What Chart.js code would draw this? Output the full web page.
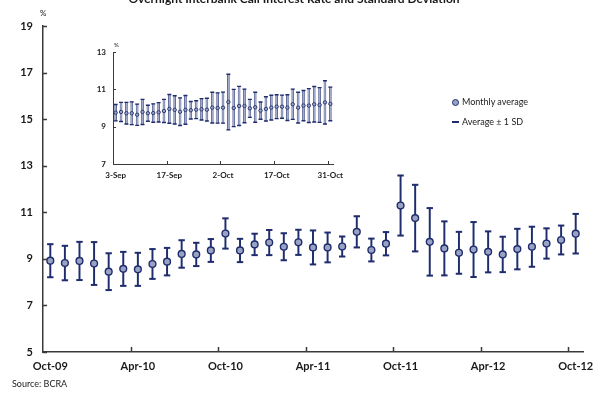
<!DOCTYPE html>
<html>
<head>
<meta charset="utf-8">
<script src="https://cdn.jsdelivr.net/npm/chart.js@4.4.1/dist/chart.umd.min.js"></script>
<style>
  html, body { margin: 0; padding: 0; background: #fff; }
  #wrap { position: relative; width: 595px; height: 393px; overflow: hidden; font-family: Lato, "DejaVu Sans", sans-serif; color: #1a1a1a; }
  canvas { position: absolute; }
  #main { left: 0; top: 0; }
  #inset { left: 60px; top: 40px; }
  .t { position: absolute; white-space: nowrap; }
  .lg { font-size: 9px; line-height: 10px; }
</style>
</head>
<body>
<div id="wrap">
  <canvas id="main" width="595" height="393"></canvas>
  <canvas id="inset" width="290" height="150"></canvas>
  <div class="t" style="left:0;width:588px;text-align:center;top:-7px;font-weight:bold;font-size:12px;line-height:12px;">Overnight Interbank Call Interest Rate and Standard Deviation</div>
  <div class="t" style="left:40px;top:9px;font-size:8px;line-height:9px;">%</div>
  <div class="t" style="left:114px;top:41px;font-size:6px;line-height:7px;">%</div>
  <div class="t" style="left:452px;top:99px;width:7px;height:7px;box-sizing:border-box;border:1.5px solid #1f2d6e;background:#9aa2c4;border-radius:50%;"></div>
  <div class="t lg" style="left:462px;top:97px;">Monthly average</div>
  <div class="t" style="left:452px;top:121px;width:7px;height:2px;background:#1f2d6e;"></div>
  <div class="t lg" style="left:462px;top:117px;">Average ± 1 SD</div>
  <div class="t" style="left:12px;top:379px;font-size:9px;line-height:10px;">Source: BCRA</div>
</div>
<script>
// Monthly overnight call rate, Oct-09 .. Oct-12 (%)
const monthLabels = ['Oct-09','Nov-09','Dec-09','Jan-10','Feb-10','Mar-10','Apr-10','May-10','Jun-10','Jul-10','Aug-10','Sep-10',
  'Oct-10','Nov-10','Dec-10','Jan-11','Feb-11','Mar-11','Apr-11','May-11','Jun-11','Jul-11','Aug-11','Sep-11',
  'Oct-11','Nov-11','Dec-11','Jan-12','Feb-12','Mar-12','Apr-12','May-12','Jun-12','Jul-12','Aug-12','Sep-12','Oct-12'];
const monthlyAvg = [8.92, 8.82, 8.91, 8.80, 8.45, 8.57, 8.55, 8.78, 8.88, 9.21, 9.19, 9.36,
  10.09, 9.36, 9.62, 9.70, 9.52, 9.71, 9.49, 9.49, 9.53, 10.16, 9.38, 9.65,
  11.29, 10.75, 9.73, 9.45, 9.26, 9.40, 9.30, 9.19, 9.42, 9.52, 9.66, 9.81, 10.08];
const monthlySd = [0.71, 0.74, 0.82, 0.92, 0.79, 0.73, 0.71, 0.64, 0.59, 0.59, 0.50, 0.49,
  0.65, 0.50, 0.46, 0.54, 0.58, 0.54, 0.73, 0.64, 0.43, 0.67, 0.49, 0.50,
  1.29, 1.43, 1.45, 1.16, 0.90, 1.18, 0.88, 0.76, 0.87, 0.86, 0.65, 0.62, 0.85];

// Daily overnight call rate, Sep-12 .. Oct-12 business days (%)
const dayLabels = ['3-Sep','4-Sep','5-Sep','6-Sep','7-Sep','10-Sep','11-Sep','12-Sep','13-Sep','14-Sep',
  '17-Sep','18-Sep','19-Sep','20-Sep','21-Sep','25-Sep','26-Sep','27-Sep','28-Sep','1-Oct',
  '2-Oct','3-Oct','4-Oct','5-Oct','9-Oct','10-Oct','11-Oct','12-Oct','15-Oct','16-Oct',
  '17-Oct','18-Oct','19-Oct','22-Oct','23-Oct','24-Oct','25-Oct','26-Oct','29-Oct','30-Oct','31-Oct'];
const dailyAvg = [9.75, 9.79, 9.72, 9.72, 9.64, 9.79, 9.72, 9.73, 9.77, 9.84,
  9.95, 9.90, 9.80, 9.90, 9.88, 9.91, 9.93, 9.91, 10.02, 10.00,
  10.02, 10.32, 10.00, 10.11, 10.11, 9.98, 10.04, 9.86, 9.95, 10.02,
  10.07, 10.07, 10.02, 10.20, 10.02, 10.13, 10.13, 10.20, 10.16, 10.30, 10.22];
const dailySd = [0.44, 0.51, 0.58, 0.61, 0.57, 0.67, 0.43, 0.49, 0.52, 0.62,
  0.77, 0.76, 0.74, 0.77, 0.47, 0.48, 0.57, 0.61, 0.82, 0.81,
  0.83, 1.49, 1.00, 1.05, 0.90, 0.48, 0.80, 0.46, 0.65, 0.66,
  0.64, 0.62, 0.69, 0.81, 0.82, 0.81, 0.91, 0.95, 0.93, 1.16, 0.90];

const mainTicks = [5, 7, 9, 11, 13, 15, 17, 19];
const insetTicks = [7, 9, 11, 13];

const NAVY = '#1f2d6e';
const LIGHT = '#9aa2c4';
const AXIS = '#3a3a3a';

// Short tick marks pointing into the plot area
const inwardTicks = {
  id: 'inwardTicks',
  afterDraw(chart, args, o) {
    const { ctx, chartArea: a, scales: { x, y } } = chart;
    ctx.save();
    ctx.strokeStyle = o.color;
    ctx.lineWidth = o.width;
    ctx.beginPath();
    y.ticks.forEach(t => {
      const py = Math.round(y.getPixelForValue(t.value)) + 0.5;
      ctx.moveTo(a.left, py);
      ctx.lineTo(a.left + o.yLen, py);
    });
    const n = chart.data.labels.length;
    for (let i = o.every; i < n; i += o.every) {
      const px = Math.round((x.getPixelForValue(i - 1) + x.getPixelForValue(i)) / 2) + 0.5;
      ctx.moveTo(px, a.bottom);
      ctx.lineTo(px, a.bottom - o.xLen);
    }
    ctx.stroke();
    ctx.restore();
  }
};

function errorChart(id, labels, avg, sd, tickVals, s) {
  const hi = avg.map((v, i) => v + sd[i]);
  const lo = avg.map((v, i) => v - sd[i]);
  return new Chart(document.getElementById(id), {
    type: 'bar',
    data: {
      labels,
      datasets: [
        { type: 'line', label: 'avg', data: avg, showLine: false, order: 0,
          pointStyle: 'circle', pointRadius: s.dot, pointBorderWidth: s.dotBorder,
          pointBackgroundColor: LIGHT, pointBorderColor: NAVY },
        { type: 'line', label: 'hi', data: hi, showLine: false, order: 1,
          pointStyle: 'line', pointRadius: s.cap, pointBorderWidth: s.capWidth, pointBorderColor: NAVY },
        { type: 'line', label: 'lo', data: lo, showLine: false, order: 1,
          pointStyle: 'line', pointRadius: s.cap, pointBorderWidth: s.capWidth, pointBorderColor: NAVY },
        { type: 'bar', label: 'sd', data: lo.map((v, i) => [v, hi[i]]), order: 2,
          barThickness: s.bar, backgroundColor: s.barFill, borderColor: NAVY,
          borderWidth: s.barBorder, borderSkipped: false }
      ]
    },
    options: {
      responsive: false,
      devicePixelRatio: 1,
      animation: false,
      events: [],
      layout: { padding: { top: s.top, right: s.right, left: 0, bottom: 0 } },
      plugins: {
        legend: { display: false },
        tooltip: { enabled: false },
        inwardTicks: { color: AXIS, width: s.axisWidth, yLen: s.yLen, xLen: s.xLen, every: s.every }
      },
      scales: {
        x: {
          type: 'category',
          offset: true,
          grid: { display: false, drawTicks: false },
          border: { display: true, color: AXIS, width: s.axisWidth },
          ticks: {
            autoSkip: false, maxRotation: 0, padding: s.xPad,
            color: '#1a1a1a', font: { family: 'Lato', weight: 'bold', size: s.font },
            callback: (v, i) => (i % s.every === 0 ? labels[i] : '')
          },
          afterFit: sc => { sc.height = s.xHeight; sc.paddingLeft = 0; sc.paddingRight = 0; }
        },
        y: {
          min: tickVals[0], max: tickVals[tickVals.length - 1],
          afterBuildTicks: sc => { sc.ticks = tickVals.map(v => ({ value: v })); },
          grid: { display: false, drawTicks: false },
          border: { display: true, color: AXIS, width: s.axisWidth },
          ticks: { padding: s.yPad, color: '#1a1a1a', font: { family: 'Lato', weight: 'bold', size: s.font } },
          afterFit: sc => { sc.width = s.yWidth; sc.paddingTop = 0; sc.paddingBottom = 0; }
        }
      }
    },
    plugins: [inwardTicks]
  });
}

errorChart('main', monthLabels, monthlyAvg, monthlySd, mainTicks, {
  dot: 3.4, dotBorder: 1.4, cap: 3.2, capWidth: 2, bar: 1.3, barFill: NAVY, barBorder: 0,
  top: 26, right: 12, xHeight: 41, yWidth: 43, xPad: 8, yPad: 10, font: 11,
  axisWidth: 1.5, yLen: 4, xLen: 5, every: 6
});

errorChart('inset', dayLabels, dailyAvg, dailySd, insetTicks, {
  dot: 1.7, dotBorder: 0.9, cap: 2, capWidth: 1.4, bar: 2, barFill: '#a3abc9', barBorder: 0.5,
  top: 12, right: 17, xHeight: 26, yWidth: 53, xPad: 7, yPad: 7, font: 8,
  axisWidth: 1, yLen: 3, xLen: 3, every: 10
});
</script>
</body>
</html>
